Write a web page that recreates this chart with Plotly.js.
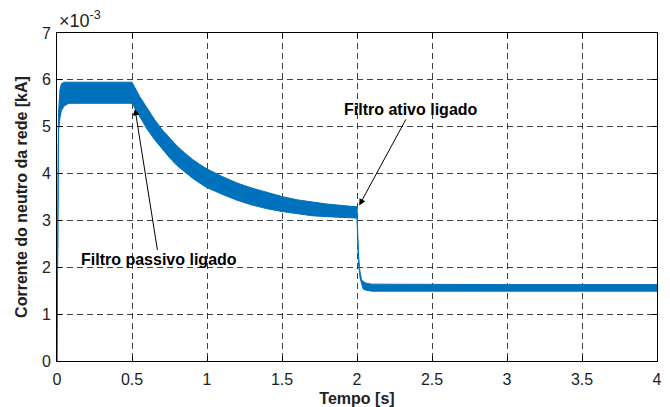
<!DOCTYPE html>
<html>
<head>
<meta charset="utf-8">
<script src="https://cdn.plot.ly/plotly-3.0.1.min.js"></script>
<style>html,body{margin:0;padding:0;background:#fff;}#chart{width:670px;height:407px;}</style>
</head>
<body>
<div id="chart"></div>
<script>
// Time axis (s)
var time = [0, 0.005, 0.01, 0.02, 0.03, 0.05, 0.08, 0.5, 0.55, 0.6, 0.65, 0.7, 0.75, 0.8, 0.85, 0.9, 0.95, 1.0, 1.1, 1.2, 1.3, 1.4, 1.5, 1.6, 1.7, 1.8, 1.9, 2.0, 2.005, 2.01, 2.02, 2.03, 2.04, 2.06, 2.1, 2.5, 3.0, 3.5, 4.0];
// Upper / lower envelope of the neutral current band (x10^-3 kA)
var upper = [0, 2.6, 5.3, 5.8, 5.92, 5.95, 5.95, 5.95, 5.65, 5.39, 5.155, 4.94, 4.76, 4.59, 4.445, 4.31, 4.2, 4.10, 3.94, 3.80, 3.69, 3.60, 3.51, 3.44, 3.39, 3.35, 3.32, 3.29, 2.7, 2.25, 1.9, 1.74, 1.70, 1.66, 1.64, 1.63, 1.63, 1.63, 1.63];
var lower = [0, 2.2, 4.9, 5.2, 5.35, 5.45, 5.50, 5.50, 5.21, 4.95, 4.725, 4.52, 4.34, 4.17, 4.035, 3.91, 3.8, 3.70, 3.56, 3.43, 3.33, 3.25, 3.19, 3.14, 3.10, 3.08, 3.065, 3.05, 2.5, 2.1, 1.78, 1.62, 1.54, 1.51, 1.49, 1.49, 1.49, 1.49, 1.49];

var xTicks = [0, 0.5, 1, 1.5, 2, 2.5, 3, 3.5, 4];
var yTicks = [0, 1, 2, 3, 4, 5, 6, 7];
var yExponentLabel = '×10<sup>-3</sup>';

var annoTexts = ['Filtro passivo ligado', 'Filtro ativo ligado'];
var annoX = [0.52, 2.015];
var annoY = [5.38, 3.32];

var blue = '#0072BD';
var traces = [
  {x: time, y: lower, type: 'scatter', mode: 'lines', line: {color: blue, width: 1}, hoverinfo: 'skip', showlegend: false},
  {x: time, y: upper, type: 'scatter', mode: 'lines', line: {color: blue, width: 1}, fill: 'tonexty', fillcolor: blue, hoverinfo: 'skip', showlegend: false}
];

var font = 'Liberation Sans, Arial, Helvetica, sans-serif';
var axisCommon = {
  showline: true, linecolor: '#000', linewidth: 1, mirror: 'ticks',
  ticks: 'inside', ticklen: 5, tickcolor: '#000',
  showgrid: true, gridcolor: 'rgba(0,0,0,0.75)', griddash: '6px,4px', gridwidth: 1,
  zeroline: false, tickfont: {family: font, size: 16, color: '#222'}
};

var layout = {
  width: 670, height: 407,
  margin: {l: 57, r: 13, t: 33, b: 46},
  paper_bgcolor: '#fff', plot_bgcolor: '#fff',
  xaxis: Object.assign({}, axisCommon, {
    range: [0, 4], tickvals: xTicks, ticktext: xTicks.map(String), ticklabelstandoff: 4,
    title: {text: '<b>Tempo [s]</b>', font: {family: font, size: 16, color: '#222'}, standoff: 5}
  }),
  yaxis: Object.assign({}, axisCommon, {
    range: [0, 7], tickvals: yTicks, ticktext: yTicks.map(String), ticklabelstandoff: 2,
    title: {text: '<b>Corrente do neutro da rede [kA]</b>', font: {family: font, size: 16, color: '#222'}, standoff: 10}
  }),
  annotations: [
    {xref: 'paper', yref: 'paper', x: 0, y: 1, xanchor: 'left', yanchor: 'bottom', yshift: 0, showarrow: false,
     text: yExponentLabel, font: {family: font, size: 18, color: '#222'}},
    {x: annoX[0], y: annoY[0], text: '<b>' + annoTexts[0] + '</b>', showarrow: true, arrowhead: 2, arrowsize: 1.3, arrowwidth: 1, arrowcolor: '#000',
     ax: 24, ay: 151, font: {family: font, size: 16, color: '#000'}},
    {x: annoX[1], y: annoY[1], text: '<b>' + annoTexts[1] + '</b>', showarrow: true, arrowhead: 2, arrowsize: 1.3, arrowwidth: 1, arrowcolor: '#000',
     ax: 52, ay: -96, font: {family: font, size: 16, color: '#000'}}
  ]
};

Plotly.newPlot('chart', traces, layout, {staticPlot: true, displayModeBar: false});
</script>
</body>
</html>
